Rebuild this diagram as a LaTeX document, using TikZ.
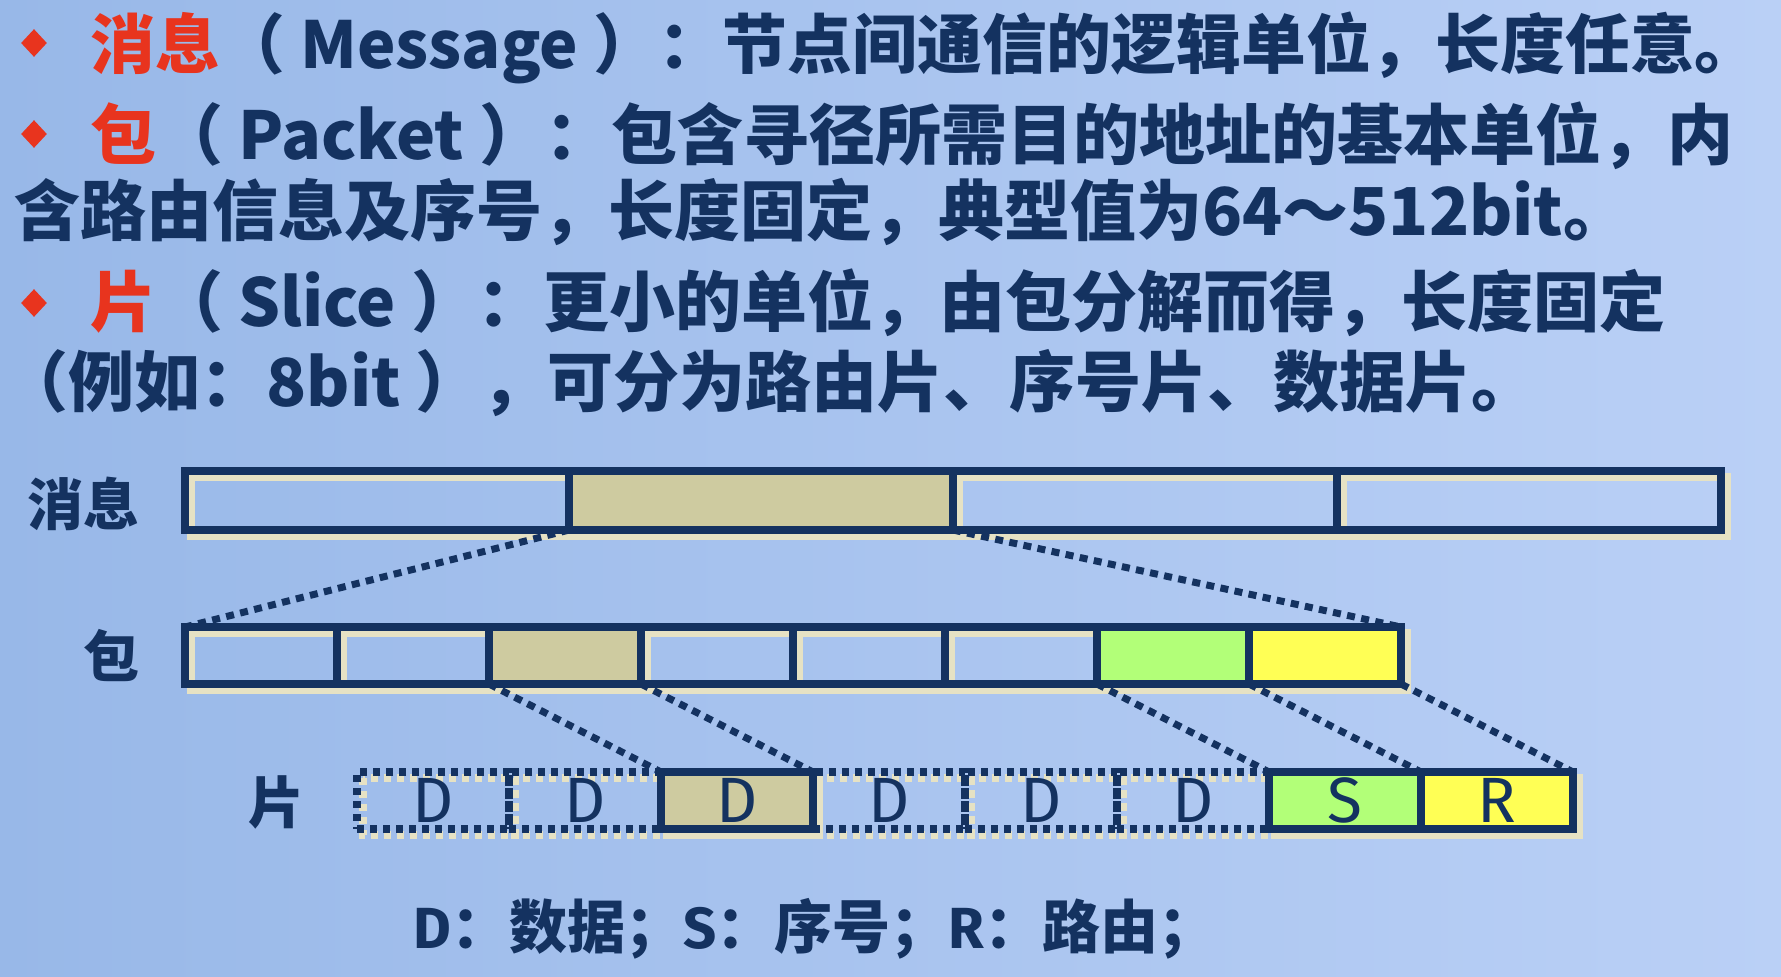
\documentclass[tikz,border=0pt]{standalone}
\usepackage{fontspec}
\setmainfont{Noto Sans CJK SC}
\newfontfamily\lett{Fira Sans}
\usetikzlibrary{shapes.geometric}
\pgfdeclarelayer{back}
\pgfdeclarelayer{shade}
\pgfsetlayers{back,shade,main}
\definecolor{navy}{RGB}{20,50,96}
\definecolor{tanc}{RGB}{206,203,160}
\definecolor{greenc}{RGB}{178,255,120}
\definecolor{yellowc}{RGB}{255,255,85}
\definecolor{creamc}{RGB}{230,226,196}
\definecolor{redc}{RGB}{232,52,30}
\definecolor{bgleft}{RGB}{152,184,232}
\definecolor{bgmid}{RGB}{196,216,244}
\definecolor{bgright}{RGB}{186,208,246}
\begin{document}
\begin{tikzpicture}[x=0.5pt,y=-0.5pt,
  box/.style={draw=navy, line width=4pt, inner sep=0pt, outer sep=0pt, anchor=north west},
  mbox/.style={box, minimum width=192pt, minimum height=29.5pt},
  pbox/.style={box, minimum width=76pt, minimum height=28.5pt},
  dotbox/.style={pbox, dash pattern=on 3.5pt off 3pt},
  shadowline/.style={draw=creamc, line width=4pt},
  shadowdot/.style={draw=creamc, line width=4pt, dash pattern=on 3.5pt off 3pt},
  conn/.style={draw=navy, line width=3.5pt, dash pattern=on 4pt off 3.2pt},
  txt/.style={anchor=base west, inner sep=0pt, text=navy, font=\bfseries\fontsize{33}{33}\selectfont},
  txtone/.style={txt, font=\bfseries\fontsize{32.4}{32.4}\selectfont},
  lbl/.style={anchor=base east, inner sep=0pt, text=navy, font=\bfseries\fontsize{28}{28}\selectfont},
  letter/.style={inner sep=0pt, text=navy, font=\lett\fontsize{32}{32}\selectfont},
  bullet/.style={diamond, fill=redc, inner sep=0pt, minimum width=13pt, minimum height=14pt}
]
\begin{pgfonlayer}{back}
  \shade[left color=bgleft, middle color=bgmid, right color=bgright] (0,0) rectangle (1781,976);
\end{pgfonlayer}
\useasboundingbox (0,0) rectangle (1781,976);

% ---------- text ----------
\node[bullet] (b1) at (34,43) {};
\node[txtone, text=redc] (t1a) at (90,68) {消息};
\node[txtone] (t1b) at (t1a.base east) {（ Message ）：节点间通信的逻辑单位，长度任意\makebox[0.5em][l]{。}};
\node[bullet] (b2) at (34,134) {};
\node[txt, text=redc] (t2a) at (90,159) {包};
\node[txt] (t2b) at (t2a.base east) {（ Packet ）：包含寻径所需目的地址的基本单位，内};
\node[txt] (t3) at (14,235) {含路由信息及序号，长度固定，典型值为64～512bit。};
\node[bullet] (b4) at (34,303) {};
\node[txt, text=redc] (t4a) at (90,326) {片};
\node[txt] (t4b) at (t4a.base east) {（ Slice ）：更小的单位，由包分解而得，长度固定};
\node[txt] (t5) at (2,406) {（例如：8bit ），可分为路由片、序号片、数据片。};

% ---------- labels ----------
\node[lbl] (lm) at (140,525) {消息};
\node[lbl] (lp) at (140,677) {包};
\node[lbl] (ls) at (305,823) {片};

% ---------- message ----------
\node[mbox] (m1) at (185,471) {};
\node[mbox, fill=tanc] (m2) at (569,471) {};
\node[mbox] (m3) at (953,471) {};
\node[mbox] (m4) at (1337,471) {};

% ---------- packet ----------
\node[pbox] (p1) at (185,627) {};
\node[pbox] (p2) at (337,627) {};
\node[pbox, fill=tanc] (p3) at (489,627) {};
\node[pbox] (p4) at (641,627) {};
\node[pbox] (p5) at (793,627) {};
\node[pbox] (p6) at (945,627) {};
\node[pbox, fill=greenc] (p7) at (1097,627) {};
\node[pbox, fill=yellowc] (p8) at (1249,627) {};

% ---------- slices ----------
\node[dotbox] (s1) at (357,772) {};
\node[dotbox] (s2) at (509,772) {};
\node[dotbox] (s4) at (813,772) {};
\node[dotbox] (s5) at (965,772) {};
\node[dotbox] (s6) at (1117,772) {};
\node[pbox, fill=tanc] (s3) at (661,772) {};
\node[pbox, fill=greenc] (s7) at (1269,772) {};
\node[pbox, fill=yellowc] (s8) at (1421,772) {};

% shadows of boxes
\begin{pgfonlayer}{shade}
  \foreach \n in {m1,m2,m3,m4,p1,p2,p3,p4,p5,p6,p7,p8,s3,s7,s8}
    \draw[shadowline] ([shift={(3pt,-3pt)}]\n.north west) rectangle ([shift={(3pt,-3pt)}]\n.south east);
  \foreach \n in {s1,s2,s4,s5,s6}
    \draw[shadowdot] ([shift={(3pt,-3pt)}]\n.north west) rectangle ([shift={(3pt,-3pt)}]\n.south east);
\end{pgfonlayer}

% letters
\foreach \n/\c in {s1/D,s2/D,s3/D,s4/D,s5/D,s6/D,s7/S,s8/R}{
  \node[letter] (\n l) at (\n.center) {\c};
}

% ---------- connectors ----------
\draw[conn] (m2.south west) -- (p1.north west);
\draw[conn] (m2.south east) -- (p8.north east);
\draw[conn] (p3.south west) -- (s3.north west);
\draw[conn] (p3.south east) -- (s3.north east);
\draw[conn] (p7.south west) -- (s7.north west);
\draw[conn] (p8.south west) -- (s8.north west);
\draw[conn] (p8.south east) -- (s8.north east);

% ---------- legend ----------
\node[anchor=base, inner sep=0pt, text=navy, font=\bfseries\fontsize{29}{29}\selectfont] (legend) at (815,948) {{\lett D}：数据；{\lett S}：序号；{\lett R}：路由；};
\end{tikzpicture}
\end{document}
